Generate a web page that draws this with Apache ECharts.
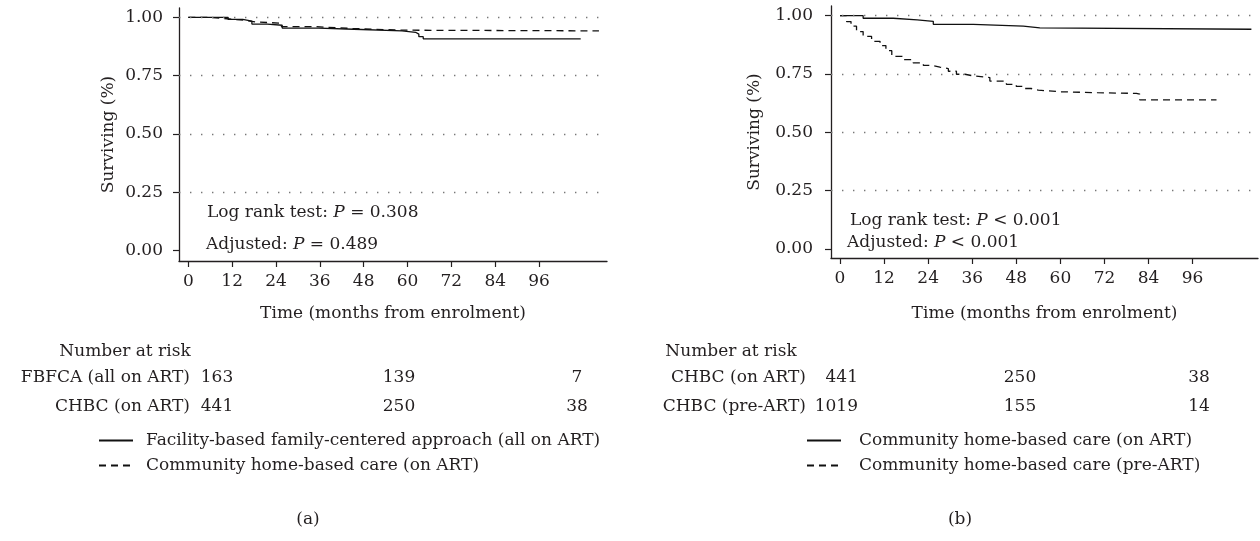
<!DOCTYPE html>
<html><head><meta charset="utf-8">
<script src="https://cdn.jsdelivr.net/npm/echarts@6/dist/echarts.min.js"></script>
<style>html,body{margin:0;padding:0;background:#fff}#c{width:1260px;height:541px}</style>
</head><body><div id="c"></div>
<script>
// ---- data ----
const xTicks = [0, 12, 24, 36, 48, 60, 72, 84, 96];
const yTicks = [0, 0.25, 0.5, 0.75, 1.0];

// Panel (a): Facility-based family-centered approach (all on ART)
const aFbfcaTime = [0, 10.9, 14.9, 17.4, 21.6, 25.7, 35.7, 45.3, 58.5, 62.2, 63.1, 64.3, 107.4];
const aFbfcaSurv = [1.0, 0.991, 0.984, 0.971, 0.966, 0.954, 0.949, 0.942, 0.936, 0.928, 0.917, 0.908, 0.908];
// Panel (a): Community home-based care (on ART)
const aChbcTime = [0, 5.5, 10.6, 15, 18.6, 25.5, 35, 45, 58.5, 112.4];
const aChbcSurv = [1.0, 0.994, 0.988, 0.98, 0.975, 0.96, 0.952, 0.945, 0.942, 0.942];
// Panel (b): Community home-based care (on ART)
const bOnTime = [0, 6.3, 14.5, 21, 25.4, 36.3, 49.9, 54.4, 112];
const bOnSurv = [1.0, 0.989, 0.982, 0.976, 0.963, 0.955, 0.948, 0.942, 0.942];
// Panel (b): Community home-based care (pre-ART)
const bPreTime = [0, 1.8, 3, 4.5, 6.3, 8.6, 10.9, 12.5, 14.1, 17.2, 19.9, 22.7, 25, 27.2, 29.5, 31.7, 34, 36.3, 40.8, 45.3, 48, 49.9, 52, 54, 59.8, 70, 80.7, 81.6, 102.5];
const bPreSurv = [1.0, 0.975, 0.955, 0.932, 0.911, 0.89, 0.872, 0.85, 0.826, 0.812, 0.798, 0.787, 0.78, 0.773, 0.762, 0.749, 0.742, 0.735, 0.72, 0.706, 0.697, 0.688, 0.681, 0.674, 0.67, 0.667, 0.664, 0.639, 0.639];

const legendA = ['Facility-based family-centered approach (all on ART)', 'Community home-based care (on ART)'];
const legendB = ['Community home-based care (on ART)', 'Community home-based care (pre-ART)'];

const riskRowsA = ['FBFCA (all on ART)', 'CHBC (on ART)'];
const riskA = [[163, 139, 7], [441, 250, 38]];
const riskRowsB = ['CHBC (on ART)', 'CHBC (pre-ART)'];
const riskB = [[441, 250, 38], [1019, 155, 14]];

const statsA = [['Log rank test: ', '=', '0.308'], ['Adjusted: ', '=', '0.489']];
const statsB = [['Log rank test: ', '<', '0.001'], ['Adjusted: ', '<', '0.001']];
const panelTags = ['(a)', '(b)'];
const xName = 'Time (months from enrolment)';
const yName = 'Surviving (%)';

// ---- styling / layout ----
const FONT = "'DejaVu Serif', serif";
const INK = '#231f20';
const FS = 17;
const zip = (t, s) => t.map((v, i) => [v, s[i]]);

function xAxisCfg(gi, min, max, gap) {
  return {
    gridIndex: gi, type: 'value', min: min, max: max,
    axisLine: { show: true, onZero: false, lineStyle: { color: INK, width: 1.3 } },
    axisTick: { show: true, length: 6, customValues: xTicks, lineStyle: { color: INK, width: 1.2 } },
    axisLabel: { customValues: xTicks, margin: 12, fontFamily: FONT, fontSize: FS, color: INK },
    splitLine: { show: false },
    name: xName, nameLocation: 'middle', nameGap: gap,
    nameTextStyle: { fontFamily: FONT, fontSize: FS, color: INK }
  };
}
function yAxisCfg(gi, min, max, lm, gap) {
  return {
    gridIndex: gi, type: 'value', min: min, max: max,
    axisLine: { show: true, onZero: false, lineStyle: { color: INK, width: 1.3 } },
    axisTick: { show: true, length: 6, customValues: yTicks, lineStyle: { color: INK, width: 1.2 } },
    axisLabel: { customValues: yTicks, margin: lm, fontFamily: FONT, fontSize: FS, color: INK,
      formatter: v => v.toFixed(2) },
    splitLine: { show: false },
    name: yName, nameLocation: 'middle', nameGap: gap,
    nameTextStyle: { fontFamily: FONT, fontSize: FS, color: INK }
  };
}
const gridMark = {
  silent: true, symbol: ['none', 'none'], animation: false,
  label: { show: false },
  lineStyle: { type: [1.4, 9.6], color: '#777', width: 1.4 },
  data: yTicks.filter(v => v > 0).map(v => ({ yAxis: v }))
};
function km(name, gi, t, s, dashed, withGrid) {
  const o = {
    name: name, type: 'line', xAxisIndex: gi, yAxisIndex: gi, step: 'end',
    data: zip(t, s), symbol: 'none', showSymbol: false, animation: false, z: 3,
    color: '#111', itemStyle: { color: '#111' },
    lineStyle: { color: '#111', width: 1.3, type: dashed ? [7, 5] : 'solid' }
  };
  if (withGrid) o.markLine = gridMark;
  return o;
}

const graphics = [];
function txt(x, y, text, align) {
  graphics.push({ type: 'text', silent: true, style: {
    x: x, y: y, text: String(text), align: align || 'left', verticalAlign: 'middle',
    font: FS + 'px ' + FONT, fill: INK } });
}
function stat(x, y, s) {
  graphics.push({ type: 'text', silent: true, style: {
    x: x, y: y, verticalAlign: 'middle', fill: INK,
    text: '{n|' + s[0] + '}{i|P}{n| ' + s[1] + ' ' + s[2] + '}',
    rich: { n: { fontFamily: FONT, fontSize: FS, fill: INK },
            i: { fontFamily: FONT, fontSize: FS, fontStyle: 'italic', fill: INK } } } });
}
// stats text
stat(207, 213, statsA[0]); stat(206, 245, statsA[1]);
stat(850, 221, statsB[0]); stat(847, 243, statsB[1]);
// risk tables
const rowY = [378, 407];
txt(125, 352, 'Number at risk', 'center');
txt(731, 352, 'Number at risk', 'center');
const colA = [217, 399, 577], colB = [858, 1020, 1199];
riskRowsA.forEach((r, i) => {
  txt(190, rowY[i], r, 'right');
  riskA[i].forEach((v, j) => txt(colA[j], rowY[i], v, 'center'));
});
riskRowsB.forEach((r, i) => {
  txt(806, rowY[i], r, 'right');
  riskB[i].forEach((v, j) => txt(colB[j], rowY[i], v, j === 0 ? 'right' : 'center'));
});
txt(308, 520, panelTags[0], 'center');
txt(960, 520, panelTags[1], 'center');

const labelMap = { aF: legendA[0], aC: legendA[1], bOn: legendB[0], bPre: legendB[1] };
function legendCfg(names, left, pad) {
  return {
    data: names, left: left, top: 432, padding: 0, orient: 'vertical', selectedMode: false,
    itemWidth: 34, itemHeight: 12, itemGap: 8,
    itemStyle: { opacity: 0 },
    formatter: n => labelMap[n],
    textStyle: { fontFamily: FONT, fontSize: FS, color: INK, padding: [0, 0, 0, pad] }
  };
}

const option = {
  backgroundColor: '#fff',
  animation: false,
  grid: [
    { left: 179, top: 8, width: 428, height: 253 },
    { left: 831, top: 6, width: 427, height: 252 }
  ],
  xAxis: [xAxisCfg(0, -2.55, 114.6, 44), xAxisCfg(1, -2.45, 113.8, 47)],
  yAxis: [yAxisCfg(0, -0.044, 1.04, 16, 62), yAxisCfg(1, -0.0386, 1.0416, 18, 68)],
  legend: [legendCfg(['aF', 'aC'], 98, 8), legendCfg(['bOn', 'bPre'], 806, 13)],
  series: [
    km('aF', 0, aFbfcaTime, aFbfcaSurv, false, true),
    km('aC', 0, aChbcTime, aChbcSurv, true, false),
    km('bOn', 1, bOnTime, bOnSurv, false, true),
    km('bPre', 1, bPreTime, bPreSurv, true, false)
  ],
  graphic: graphics
};
const chart = echarts.init(document.getElementById('c'), null, { renderer: 'canvas' });
chart.setOption(option);
</script></body></html>
